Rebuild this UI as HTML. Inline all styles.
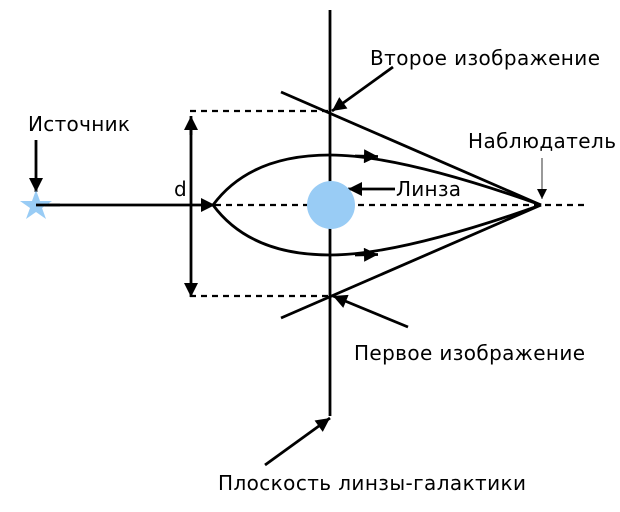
<!DOCTYPE html>
<html><head><meta charset="utf-8"><style>html,body{margin:0;padding:0;background:#fff}svg{display:block}</style></head>
<body>
<svg width="620" height="512" viewBox="0 0 620 512" xmlns="http://www.w3.org/2000/svg">
<defs>
<marker id="a" viewBox="0 0 10 10" refX="10" refY="5" markerWidth="10" markerHeight="12" markerUnits="userSpaceOnUse" orient="auto"><path d="M0,0L10,5L0,10z" fill="#000"/></marker>
<marker id="b" viewBox="0 0 10 10" refX="10" refY="5" markerWidth="19" markerHeight="14" markerUnits="userSpaceOnUse" orient="auto"><path d="M0,0L10,5L0,10z" fill="#000"/></marker>
</defs>
<g stroke="#000" stroke-width="2.8" fill="none">
<line x1="330" y1="10" x2="330" y2="416"/>
<g stroke-dasharray="6,5" stroke-width="2.2">
<line x1="215" y1="205" x2="588" y2="205"/>
<line x1="190" y1="111" x2="330" y2="111"/>
<line x1="190" y1="296" x2="330" y2="296"/>
</g>
<line x1="36" y1="205" x2="215" y2="205" marker-end="url(#b)"/>
<line x1="191" y1="135" x2="191" y2="116" marker-end="url(#b)"/>
<line x1="191" y1="120" x2="191" y2="297" marker-end="url(#b)"/>
<line x1="281" y1="92" x2="541" y2="205"/>
<line x1="281" y1="318" x2="541" y2="205"/>
<path d="M213,205 Q250,155 330,155 Q400,155 541,205"/>
<path d="M213,205 Q250,255 330,255 Q400,255 541,205"/>
<line x1="355" y1="156" x2="378" y2="156.5" marker-end="url(#b)"/>
<line x1="355" y1="255" x2="378" y2="254.5" marker-end="url(#b)"/>
<line x1="393" y1="67" x2="332" y2="111" marker-end="url(#b)"/>
<line x1="408" y1="327" x2="333" y2="296" marker-end="url(#b)"/>
<line x1="395" y1="189" x2="348" y2="189" marker-end="url(#b)"/>
<line x1="36" y1="140" x2="36" y2="192" marker-end="url(#b)"/>
<line x1="265" y1="465" x2="330" y2="418" marker-end="url(#b)"/>
<line x1="542" y1="158" x2="542" y2="199" stroke-width="0.8" marker-end="url(#a)"/>
</g>
<circle cx="331" cy="205" r="24" fill="#99ccf5"/>
<polygon points="36,190 40,201 52,201 42,208 46,219 36,212 26,219 30,208 20,201 32,201" fill="#99ccf5"/>
<line x1="36" y1="205" x2="60" y2="205" stroke="#000" stroke-width="2.8"/>
<g font-family="DejaVu Sans, Liberation Sans, sans-serif" font-size="20" fill="#000">
<text x="370" y="65" textLength="230">Второе изображение</text>
<text x="468" y="148" textLength="148">Наблюдатель</text>
<text x="396" y="196" textLength="65">Линза</text>
<text x="354" y="360" textLength="231">Первое изображение</text>
<text x="28" y="131" textLength="102">Источник</text>
<text x="174" y="196">d</text>
<text x="218" y="490" textLength="308">Плоскость линзы-галактики</text>
</g>
</svg>
</body></html>
